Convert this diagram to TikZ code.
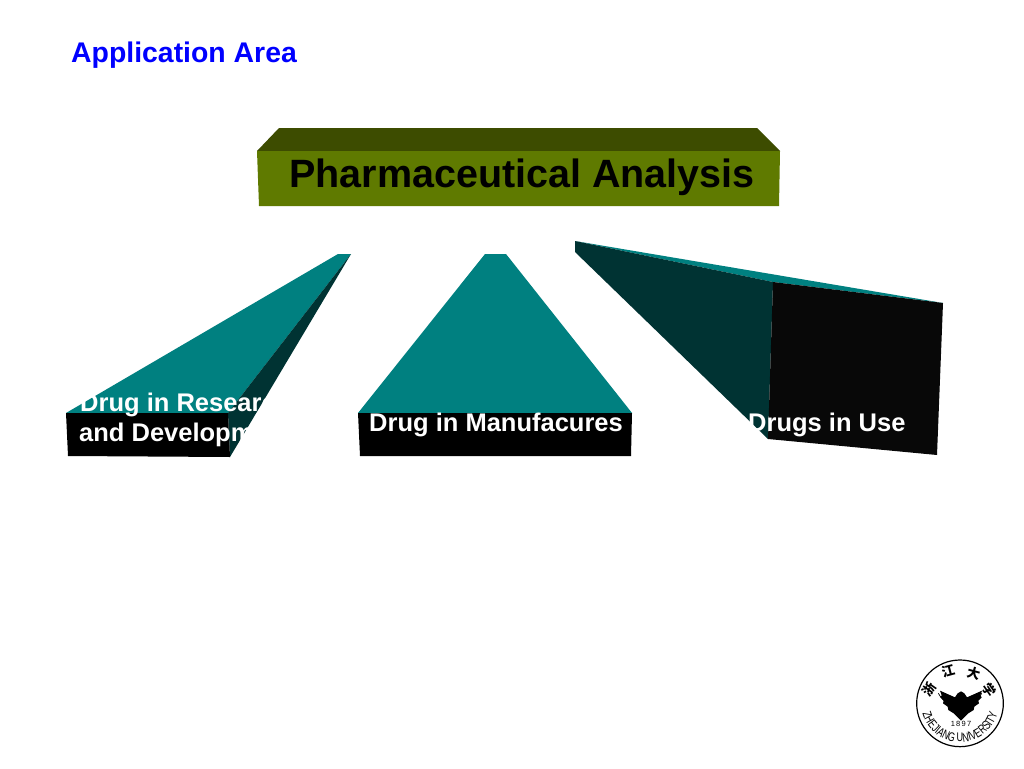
\documentclass[tikz,border=0pt]{standalone}
\usepackage{fontspec}
\setmainfont{Liberation Sans}
\newfontfamily\cjkfont{Noto Sans CJK SC}
\newfontfamily\sealfont[FakeStretch=0.72]{Liberation Sans}
\usetikzlibrary{decorations.text}
\definecolor{oliveTop}{HTML}{3D4C00}
\definecolor{oliveFront}{HTML}{5F7A00}
\definecolor{tealTop}{HTML}{008080}
\definecolor{tealSide}{HTML}{003333}
\definecolor{nearBlack}{HTML}{080808}
\tikzset{
  face/.style={draw=none,fill=#1},
  lbl/.style={anchor=base west,inner sep=0pt,font=\bfseries\fontsize{25.5}{30}\selectfont,text=white},
  sealchar/.style={inner sep=0pt,font=\cjkfont\bfseries\fontsize{13}{13}\selectfont,text=black}
}
\begin{document}
\begin{tikzpicture}[x=1pt,y=-1pt]
\useasboundingbox (0,0) rectangle (1024,768);
\fill[white] (0,0) rectangle (1024,768);
% title
\node[anchor=base west,inner sep=0pt,text=blue,font=\bfseries\fontsize{28.4}{32}\selectfont] (heading) at (71,63) {Application Area};
% top slab
\fill[face=oliveTop] (257,151) -- (279,128) -- (757,128) -- (780,151) -- cycle;
\fill[face=oliveFront] (257,151) -- (780,151) -- (779,206) -- (259,206) -- cycle;
\node[anchor=base west,inner sep=0pt,text=black,font=\bfseries\fontsize{39.5}{44}\selectfont] (main) at (289,187) {Pharmaceutical Analysis};
% left block
\fill[face=tealTop] (66,413) -- (338,254) -- (351,254) -- (228,413) -- cycle;
\fill[face=tealSide] (351,254) -- (230,457) -- (228,413) -- cycle;
\fill[face=black] (66,413) -- (228,413) -- (230,457) -- (68,456) -- cycle;
\node[lbl] (left1) at (80,411.5) {Drug in Research};
\node[lbl] (left2) at (79,441.5) {and Development};
% middle block
\fill[face=tealTop] (358,413) -- (485,254) -- (506,254) -- (632,413) -- cycle;
\fill[face=black] (358,413) -- (632,413) -- (631,456) -- (360,456) -- cycle;
\node[lbl] (mid) at (369,431.5) {Drug in Manufacures};
% right block
\fill[face=tealTop] (575,241) -- (943,303) -- (773,282) -- cycle;
\fill[face=tealSide] (575,241) -- (773,282) -- (768,439) -- (575,252) -- cycle;
\fill[face=nearBlack] (773,282) -- (943,303) -- (937,455) -- (768,439) -- cycle;
\node[lbl] (right) at (748,431.5) {Drugs in Use};
% seal
\begin{scope}[shift={(905,650)},x=1pt/3,y=-1pt/3]
  \draw[line width=1.2pt] (165,160) circle [radius=130];
  \draw[line width=.7pt] (100,130) arc [start angle=207,end angle=333,radius=73pt/3];
  \fill[black] (105,122) -- (150,142) -- (158,130) -- (168,124) -- (178,130) -- (186,142) -- (231,122)
     -- (226,136) -- (230,142) -- (220,152) -- (222,160) -- (208,170) -- (206,180) -- (190,190) -- (168,212)
     -- (146,190) -- (130,180) -- (128,170) -- (114,160) -- (116,152) -- (106,142) -- (110,136) -- cycle;
  \node[sealchar,rotate=55] (s1) at (72,117) {浙};
  \node[sealchar,rotate=15] (s2) at (130,62) {江};
  \node[sealchar,rotate=-15] (s3) at (207,70) {大};
  \node[sealchar,rotate=-55] (s4) at (252,120) {学};
  \node[inner sep=0pt,font=\fontsize{7.5}{8}\selectfont] (yr) at (168,222) {1\,8\,9\,7};
\end{scope}
\begin{scope}[shift={(960,703)},y=1pt]
  \path[decorate,decoration={text along path,text align=center,
     text={|\sealfont\fontsize{12.5}{13}\selectfont|ZHEJIANG UNIVERSITY}}]
     (183:39pt) arc [start angle=183,end angle=357,radius=39pt];
\end{scope}
\end{tikzpicture}
\end{document}
